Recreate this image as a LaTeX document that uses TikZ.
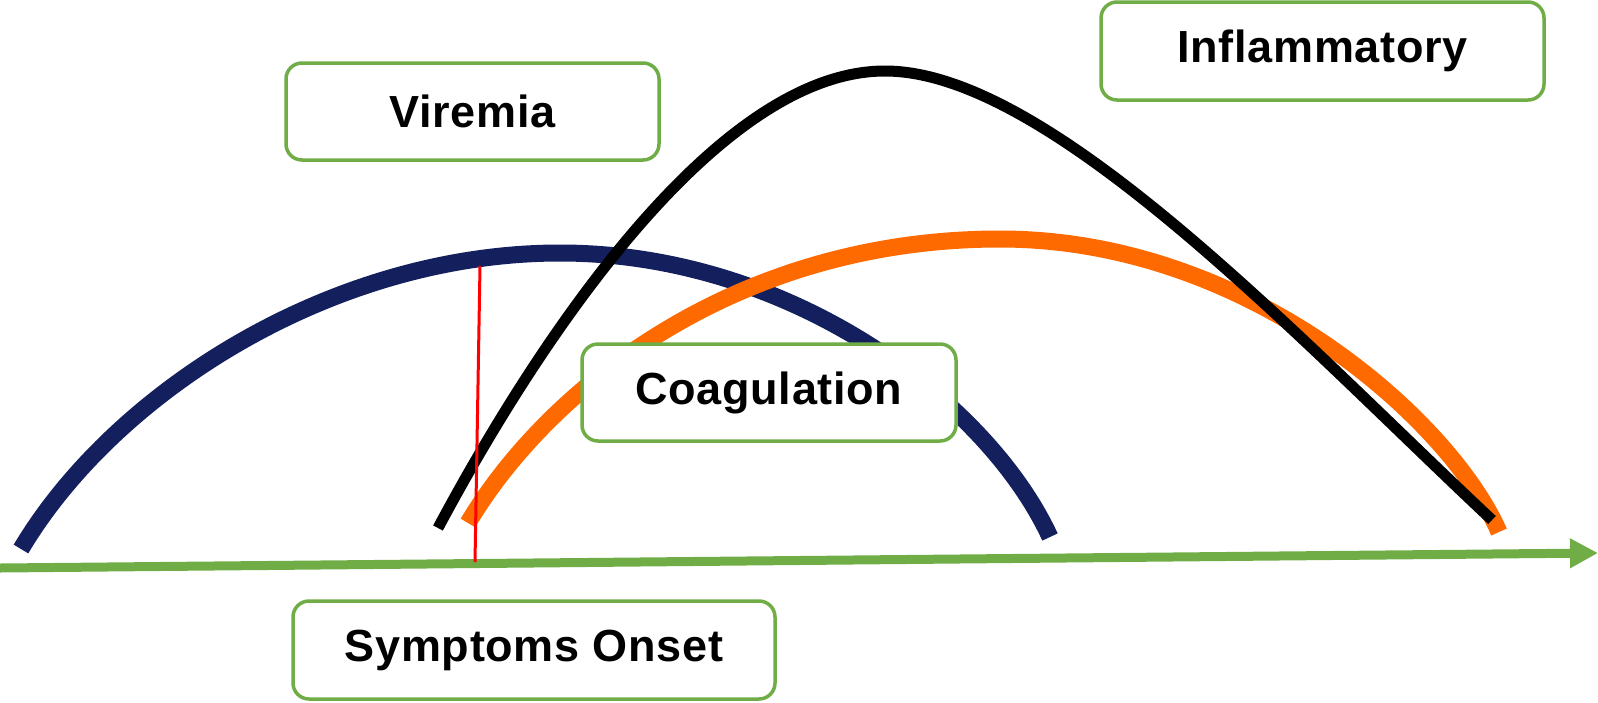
\documentclass[tikz,border=0pt]{standalone}
\usepackage{fontspec}
\setmainfont{Liberation Sans}
\usetikzlibrary{arrows.meta}
\definecolor{axgreen}{RGB}{112,173,71}
\definecolor{navyc}{RGB}{20,31,94}
\definecolor{orangec}{RGB}{255,106,0}
\tikzset{
  labelbox/.style={draw=axgreen, line width=3.5pt, rounded corners=16pt, fill=white,
    font=\fontsize{45}{54}\selectfont\bfseries\addfontfeatures{LetterSpace=1.5}, inner sep=0pt},
  curvenavy/.style={draw=navyc, line width=17pt},
  curveorange/.style={draw=orangec, line width=17pt},
  curveblack/.style={draw=black, line width=11pt},
  axisline/.style={draw=axgreen, line width=9pt, -{Triangle[width=28pt,length=28pt]}},
  onsetline/.style={draw=red, line width=3pt}
}
\begin{document}
\begin{tikzpicture}[x=1pt,y=-1pt]
\useasboundingbox (0,0) rectangle (1598,702);
% curves
\coordinate (n0) at (21,549);
\coordinate (n1) at (560,253);
\coordinate (n2) at (1050,537);
\draw[curvenavy] (n0) .. controls (113,394) and (330,253) .. (n1)
  .. controls (790,253) and (987,401) .. (n2);
\coordinate (o0) at (468,523);
\coordinate (o1) at (1000,239);
\coordinate (o2) at (1499,532);
\draw[curveorange] (o0) .. controls (544.5,394) and (730,239) .. (o1)
  .. controls (1250,239) and (1451,422) .. (o2);
\coordinate (b0) at (438,528);
\coordinate (b1) at (885,71);
\coordinate (b2) at (1492,520);
\draw[curveblack] (b0) .. controls (518,378) and (705,71) .. (b1)
  .. controls (1050,71) and (1300,340) .. (b2);
% axis
\coordinate (ax0) at (0,568);
\coordinate (ax1) at (1598,553);
\draw[axisline] (ax0) -- (ax1);
% onset marker
\coordinate (r0) at (480,266);
\coordinate (r1) at (475,562);
\draw[onsetline] (r0) -- (r1);
% boxes
\node[labelbox, minimum width=373pt, minimum height=97pt] (vir) at (472.5,111.5) {Viremia};
\node[labelbox, minimum width=374pt, minimum height=97pt] (coa) at (769,392.5) {Coagulation};
\node[labelbox, minimum width=443pt, minimum height=98pt] (inf) at (1322.5,51) {Inflammatory};
\node[labelbox, minimum width=482pt, minimum height=98pt] (sym) at (534,650) {Symptoms Onset};
\end{tikzpicture}
\end{document}
